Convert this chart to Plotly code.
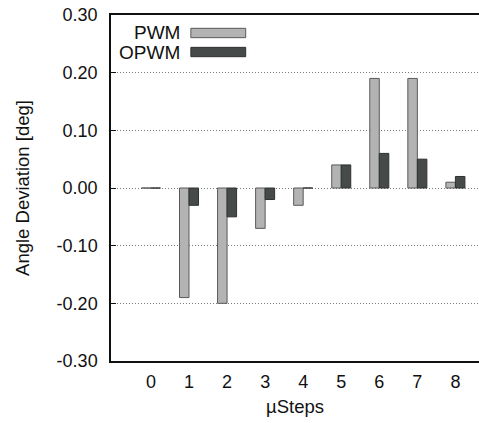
import plotly.graph_objects as go

steps = [0, 1, 2, 3, 4, 5, 6, 7, 8]
step_labels = ["0", "1", "2", "3", "4", "5", "6", "7", "8"]
pwm = [0.00, -0.19, -0.20, -0.07, -0.03, 0.04, 0.19, 0.19, 0.01]
opwm = [0.00, -0.03, -0.05, -0.02, 0.00, 0.04, 0.06, 0.05, 0.02]
y_ticks = [-0.3, -0.2, -0.1, 0.0, 0.1, 0.2, 0.3]
y_tick_labels = ["-0.30", "-0.20", "-0.10", "0.00", "0.10", "0.20", "0.30"]

FONT = "Liberation Sans, Arial, sans-serif"
PWM_FILL = "#b3b3b3"
PWM_LINE = "#5a5a5a"
OPWM_FILL = "#464b4a"
OPWM_LINE = "#2e3231"

fig = go.Figure()
fig.add_trace(go.Bar(x=steps, y=pwm, name="PWM", width=0.25, offset=-0.25,
                     marker=dict(color=PWM_FILL, line=dict(color=PWM_LINE, width=1)),
                     showlegend=False))
fig.add_trace(go.Bar(x=steps, y=opwm, name="OPWM", width=0.25, offset=0.0,
                     marker=dict(color=OPWM_FILL, line=dict(color=OPWM_LINE, width=1)),
                     showlegend=False))

# legend drawn gnuplot-style (text left of sample)
legend_items = [("PWM", PWM_FILL, PWM_LINE, 0.948), ("OPWM", OPWM_FILL, OPWM_LINE, 0.893)]
for name, fill, line, yc in legend_items:
    fig.add_annotation(xref="paper", yref="paper", x=0.192, y=yc, text=name,
                       showarrow=False, xanchor="right", yanchor="middle",
                       font=dict(family=FONT, size=19, color="#111"))
    fig.add_shape(type="rect", xref="paper", yref="paper",
                  x0=0.217, x1=0.366, y0=yc - 0.0135, y1=yc + 0.0135,
                  fillcolor=fill, line=dict(color=line, width=1))

fig.update_layout(
    width=479, height=423,
    margin=dict(l=111, r=0, t=15, b=62),
    paper_bgcolor="white", plot_bgcolor="white",
    barmode="overlay",
    font=dict(family=FONT, size=18, color="#111"),
    xaxis=dict(range=[-1.05, 8.62], tickvals=steps, ticktext=step_labels,
               showgrid=False, zeroline=False, showline=True, linecolor="#111",
               linewidth=1.5, mirror=True, ticks="", ticklabelstandoff=4,
               automargin=False,
               title=dict(text="µSteps", font=dict(size=18.5), standoff=9)),
    yaxis=dict(range=[-0.3, 0.3], tickvals=y_ticks, ticktext=y_tick_labels,
               showgrid=True, gridcolor="#7a7a7a", griddash="1px,2px", gridwidth=1,
               zeroline=False, showline=True, linecolor="#111", linewidth=1.5,
               ticks="inside", ticklen=5, tickcolor="#111", ticklabelstandoff=8,
               ticklabeloverflow="allow", automargin=False,
               title=dict(text="Angle Deviation [deg]", font=dict(size=18.5), standoff=22)),
)

fig.write_html("out.html", config={"displayModeBar": False},
               post_script="document.body.style.margin='0px';")
